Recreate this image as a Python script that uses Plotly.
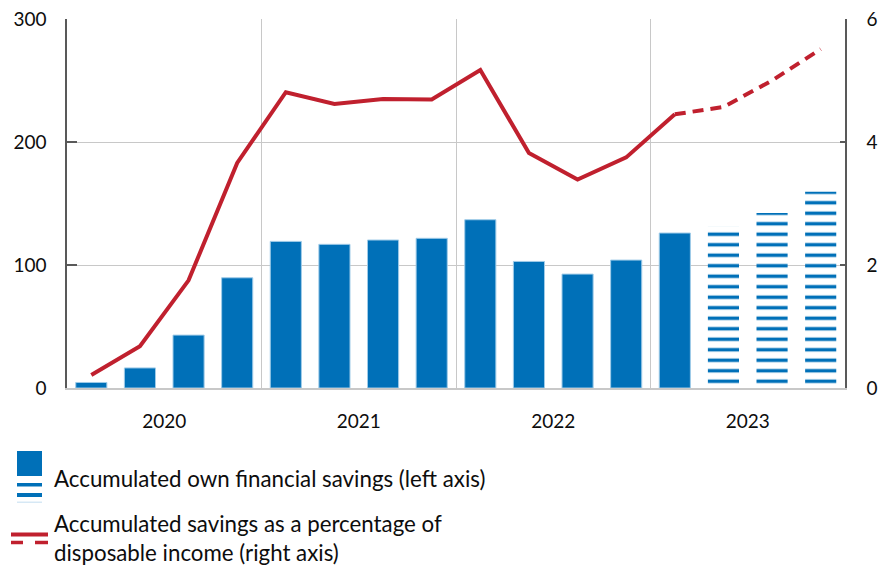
import plotly.graph_objects as go

# Quarterly data, 2020 Q1 - 2023 Q4
quarters = [f"{y} Q{q}" for y in (2020, 2021, 2022, 2023) for q in (1, 2, 3, 4)]
years = ["2020", "2021", "2022", "2023"]

# Accumulated own financial savings (left axis)
savings = [4.5, 16.3, 43, 89.6, 119.2, 116.8, 120.3, 121.7,
           136.8, 102.9, 92.6, 104, 126, 131.7, 142.3, 159.5]
# Last quarters are projections (striped bars)
n_actual_bars = 13

# Accumulated savings as a percentage of disposable income (right axis)
pct_income = [0.21, 0.68, 1.75, 3.66, 4.81, 4.62, 4.70, 4.69,
              5.17, 3.82, 3.39, 3.75, 4.45, 4.57, 5.0, 5.51]
n_actual_line = 13

left_ticks = [0, 100, 200, 300]
right_ticks = [0, 2, 4, 6]

BLUE = "#0070b8"
RED = "#c0202e"
GRID = "#c8c8c8"
AXIS = "#595959"
TEXT = "#0d0d0d"
FONT = "Lato"

W, H = 879, 568
ML, MR, MT, MB = 67, 34, 19, 180
PW, PH = W - ML - MR, H - MT - MB

xs = list(range(len(quarters)))

fig = go.Figure()

fig.add_trace(go.Bar(
    x=xs[:n_actual_bars], y=savings[:n_actual_bars],
    marker=dict(color=BLUE, line=dict(color="#9fcbe8", width=1)),
    width=0.64, hovertext=quarters[:n_actual_bars], showlegend=False,
))
fig.add_trace(go.Bar(
    x=xs[n_actual_bars:], y=savings[n_actual_bars:],
    marker=dict(color="white", line=dict(width=0),
                pattern=dict(shape="-", fgcolor=BLUE, bgcolor="white",
                             size=10.5, solidity=0.33, fillmode="replace")),
    width=0.64, hovertext=quarters[n_actual_bars:], showlegend=False,
))

fig.add_trace(go.Scatter(
    x=xs[:n_actual_line], y=pct_income[:n_actual_line], yaxis="y2",
    mode="lines", line=dict(color=RED, width=4), showlegend=False,
))
fig.add_trace(go.Scatter(
    x=xs[n_actual_line - 1:], y=pct_income[n_actual_line - 1:], yaxis="y2",
    mode="lines", line=dict(color=RED, width=4, dash="11px,7px"), showlegend=False,
))


def px_x(p):
    return (p - ML) / PW


def px_y(p):
    return (MT + PH - p) / PH


shapes = []
# legend: solid bar swatch and striped swatch
shapes.append(dict(type="rect", xref="paper", yref="paper",
                   x0=px_x(17), x1=px_x(42), y0=px_y(476), y1=px_y(451),
                   fillcolor=BLUE, line=dict(width=0)))
for top, bottom, col in [(483, 486.5, BLUE), (493, 497, BLUE), (501.5, 503, "#d6e8f5")]:
    shapes.append(dict(type="rect", xref="paper", yref="paper",
                       x0=px_x(17), x1=px_x(42), y0=px_y(bottom), y1=px_y(top),
                       fillcolor=col, line=dict(width=0)))
# legend: solid and dashed line swatch
shapes.append(dict(type="line", xref="paper", yref="paper",
                   x0=px_x(11), x1=px_x(48), y0=px_y(534.5), y1=px_y(534.5),
                   line=dict(color=RED, width=4)))
for a, b in [(11, 23), (35, 48)]:
    shapes.append(dict(type="line", xref="paper", yref="paper",
                       x0=px_x(a), x1=px_x(b), y0=px_y(542.5), y1=px_y(542.5),
                       line=dict(color=RED, width=3.5)))

annotations = [
    dict(text="Accumulated own financial savings (left axis)", xref="paper", yref="paper",
         x=px_x(52), y=px_y(478), xanchor="left", yanchor="middle", showarrow=False,
         font=dict(family=FONT, size=22.3, color=TEXT)),
    dict(text="Accumulated savings as a percentage of<br>disposable income (right axis)",
         xref="paper", yref="paper", x=px_x(52), y=px_y(538), xanchor="left",
         yanchor="middle", align="left", showarrow=False,
         font=dict(family=FONT, size=22.3, color=TEXT)),
]

fig.update_layout(
    width=W, height=H,
    margin=dict(l=ML, r=MR, t=MT, b=MB, pad=0, autoexpand=False),
    paper_bgcolor="white", plot_bgcolor="white",
    font=dict(family=FONT, size=19, color=TEXT),
    barmode="overlay",
    xaxis=dict(
        range=[-0.5, len(quarters) - 0.5], automargin=False,
        tickmode="array", tickvals=[1.5, 5.5, 9.5, 13.5], ticktext=years,
        ticks="", showgrid=False, zeroline=False,
        showline=True, linecolor=GRID, linewidth=1.5,
        ticklabelstandoff=15,
        minor=dict(tickmode="array", tickvals=[3.5, 7.5, 11.5], showgrid=True,
                   gridcolor=GRID, gridwidth=1, ticks=""),
    ),
    yaxis=dict(
        range=[0, 300], tickvals=left_ticks, automargin=False,
        ticks="inside", ticklen=10, tickcolor=AXIS, tickwidth=1.5,
        showline=True, linecolor=AXIS, linewidth=1.5,
        showgrid=True, gridcolor=GRID, gridwidth=1, zeroline=False,
        ticklabelstandoff=15,
    ),
    yaxis2=dict(
        range=[0, 6], tickvals=right_ticks, overlaying="y", side="right",
        automargin=False,
        ticks="inside", ticklen=5, tickcolor=AXIS, tickwidth=1.5,
        showline=True, linecolor=AXIS, linewidth=1.5,
        showgrid=False, zeroline=False, ticklabelstandoff=16,
    ),
    shapes=shapes,
    annotations=annotations,
)

fig.write_html("out.html")
